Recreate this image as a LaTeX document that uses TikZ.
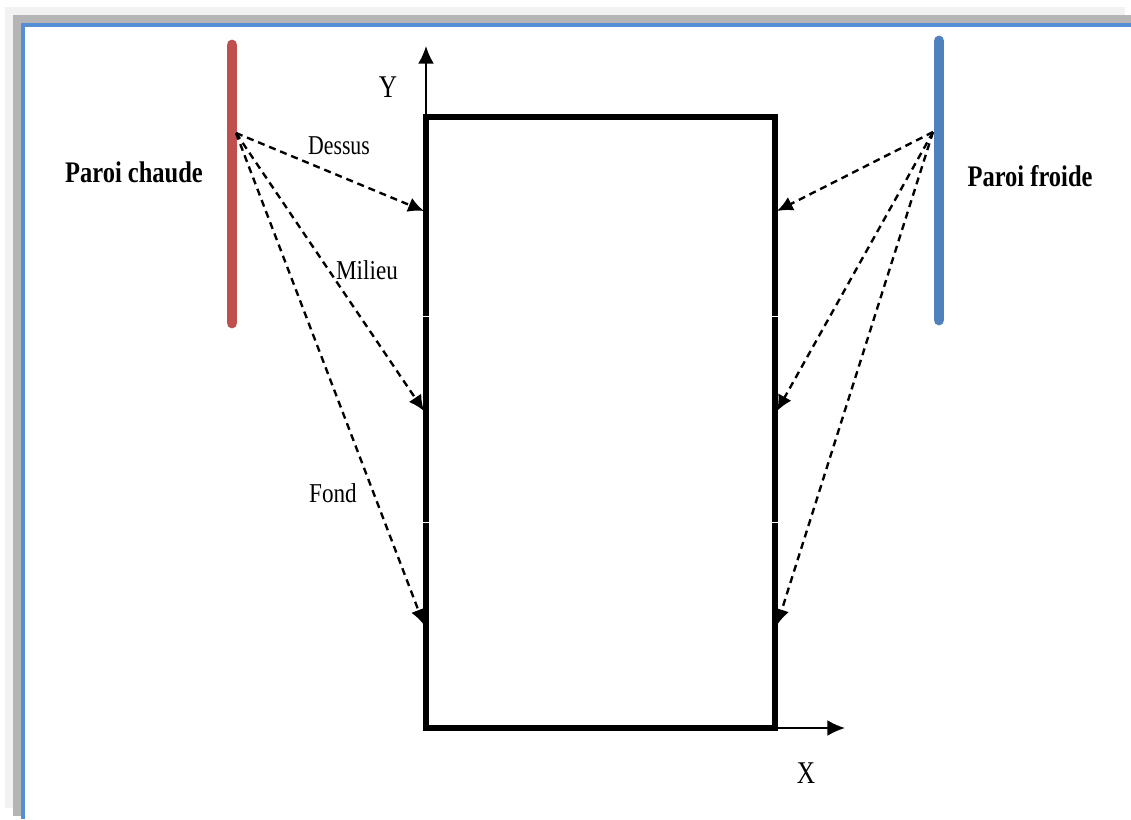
\documentclass[tikz,border=0pt]{standalone}
\usepackage{fontspec}
\setmainfont{Liberation Serif}
\usepackage{tikz}
\usetikzlibrary{arrows.meta}
\definecolor{hotred}{HTML}{C0504D}
\definecolor{coldblue}{HTML}{4F81BD}
\definecolor{frameblue}{HTML}{558ED5}
\definecolor{shadelight}{HTML}{F2F2F2}
\definecolor{shadedark}{HTML}{B5B5B5}
\newcommand{\narrowtxt}[2][0.8]{\scalebox{#1}[1]{#2}}

\begin{document}
\begin{tikzpicture}[
    x=0.02cm, y=-0.02cm,
    wall/.style={line width=6.2pt, line cap=round},
    cavity/.style={line width=3.4pt},
    ray/.style={dash pattern=on 4pt off 2.8pt, line width=1.35pt, -{Latex[length=9pt,width=8.5pt]}},
    axis/.style={line width=1.1pt, -{Latex[length=10pt,width=9pt]}},
    lbl/.style={font=\fontsize{15.5}{17}\selectfont},
    walllbl/.style={font=\fontsize{17}{19}\selectfont\bfseries},
  ]
  \useasboundingbox (0,0) rectangle (1131,819);
  % page frame
  \fill[shadelight] (5,7) rectangle (1125,808);
  \fill[shadedark] (13,15) rectangle (1131,816);
  \fill[white] (21,23) rectangle (1131,819);
  \draw[frameblue, line width=2.3pt] (23,819) -- (23,25) -- (1131,25);

  % walls
  \coordinate (hottop) at (232,45);
  \coordinate (hotbot) at (232,323);
  \coordinate (coldtop) at (939,41);
  \coordinate (coldbot) at (939,320);
  \draw[wall, hotred] (hottop) -- (hotbot);
  \draw[wall, coldblue] (coldtop) -- (coldbot);
  \node[walllbl] (hotlbl) at (134,172) {\narrowtxt[0.82]{Paroi chaude}};
  \node[walllbl] (coldlbl) at (1030,176) {\narrowtxt[0.82]{Paroi froide}};

  % cavity
  \draw[cavity] (426,316) -- (426,117) -- (775,117) -- (775,316);
  \draw[cavity] (426,317.2) -- (426,522);
  \draw[cavity] (775,317.2) -- (775,522);
  \draw[cavity] (426,523.2) -- (426,728) -- (775,728) -- (775,523.2);

  % axes
  \coordinate (ybase) at (426,117);
  \coordinate (ytip) at (426,46);
  \coordinate (xbase) at (775,728);
  \coordinate (xtip) at (845,728);
  \draw[axis] (ybase) -- (ytip);
  \draw[axis] (xbase) -- (xtip);
  \node[lbl, font=\fontsize{18}{20}\selectfont] (ylbl) at (388,87) {\narrowtxt{Y}};
  \node[lbl, font=\fontsize{18}{20}\selectfont] (xlbl) at (806,773) {\narrowtxt{X}};

  % radiation
  \coordinate (hotsrc) at (236,133);
  \coordinate (coldsrc) at (933,132);
  \coordinate (hot1) at (424,211);
  \coordinate (hot2) at (424,411);
  \coordinate (hot3) at (424,625);
  \coordinate (cold1) at (777,211);
  \coordinate (cold2) at (777,411);
  \coordinate (cold3) at (777,625);
  \foreach \k in {1,2,3} {
    \draw[ray] (hotsrc) -- (hot\k);
    \draw[ray] (coldsrc) -- (cold\k);
  }
  \node[lbl] (dessus) at (339,146) {\narrowtxt{Dessus}};
  \node[lbl] (milieu) at (367,270) {\narrowtxt[0.85]{Milieu}};
  \node[lbl] (fond) at (333,493) {\narrowtxt[0.85]{Fond}};
\end{tikzpicture}
\end{document}
